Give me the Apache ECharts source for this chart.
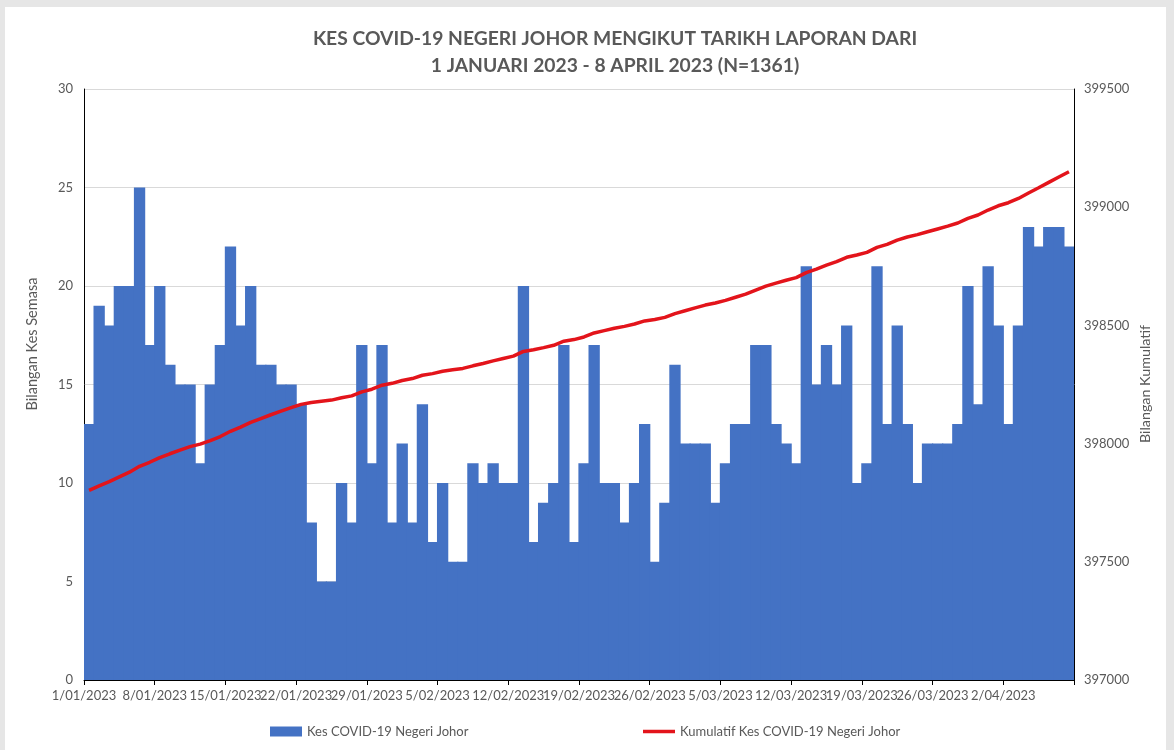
<!DOCTYPE html>
<html>
<head>
<meta charset="utf-8">
<script src="https://cdn.jsdelivr.net/npm/echarts@6/dist/echarts.min.js"></script>
<style>
html,body{margin:0;padding:0;background:#e6e6e6;}
#wrap{position:relative;width:1174px;height:750px;background:#e6e6e6;overflow:hidden;}
#panel{position:absolute;left:5px;top:7px;width:1161px;height:743px;background:#ffffff;}
#chart{position:absolute;left:0;top:0;width:1174px;height:750px;}
</style>
</head>
<body>
<div id="wrap"><div id="panel"></div><div id="chart"></div></div>
<script>
const categories = [
 '1/01/2023','2/01/2023','3/01/2023','4/01/2023','5/01/2023','6/01/2023','7/01/2023','8/01/2023','9/01/2023','10/01/2023',
 '11/01/2023','12/01/2023','13/01/2023','14/01/2023','15/01/2023','16/01/2023','17/01/2023','18/01/2023','19/01/2023','20/01/2023',
 '21/01/2023','22/01/2023','23/01/2023','24/01/2023','25/01/2023','26/01/2023','27/01/2023','28/01/2023','29/01/2023','30/01/2023',
 '31/01/2023','1/02/2023','2/02/2023','3/02/2023','4/02/2023','5/02/2023','6/02/2023','7/02/2023','8/02/2023','9/02/2023',
 '10/02/2023','11/02/2023','12/02/2023','13/02/2023','14/02/2023','15/02/2023','16/02/2023','17/02/2023','18/02/2023','19/02/2023',
 '20/02/2023','21/02/2023','22/02/2023','23/02/2023','24/02/2023','25/02/2023','26/02/2023','27/02/2023','28/02/2023','1/03/2023',
 '2/03/2023','3/03/2023','4/03/2023','5/03/2023','6/03/2023','7/03/2023','8/03/2023','9/03/2023','10/03/2023','11/03/2023',
 '12/03/2023','13/03/2023','14/03/2023','15/03/2023','16/03/2023','17/03/2023','18/03/2023','19/03/2023','20/03/2023','21/03/2023',
 '22/03/2023','23/03/2023','24/03/2023','25/03/2023','26/03/2023','27/03/2023','28/03/2023','29/03/2023','30/03/2023','31/03/2023',
 '1/04/2023','2/04/2023','3/04/2023','4/04/2023','5/04/2023','6/04/2023','7/04/2023','8/04/2023'
];
const dailyCases = [
 13,19,18,20,20,25,17,20,16,15,
 15,11,15,17,22,18,20,16,16,15,
 15,14,8,5,5,10,8,17,11,17,
 8,12,8,14,7,10,6,6,11,10,
 11,10,10,20,7,9,10,17,7,11,
 17,10,10,8,10,13,6,9,16,12,
 12,12,9,11,13,13,17,17,13,12,
 11,21,15,17,15,18,10,11,21,13,
 18,13,10,12,12,12,13,20,14,21,
 18,13,18,23,22,23,23,22
];
const cumulativeCases = [
 397802,397821,397839,397859,397879,397904,397921,397941,397957,397972,
 397987,397998,398013,398030,398052,398070,398090,398106,398122,398137,
 398152,398166,398174,398179,398184,398194,398202,398219,398230,398247,
 398255,398267,398275,398289,398296,398306,398312,398318,398329,398339,
 398350,398360,398370,398390,398397,398406,398416,398433,398440,398451,
 398468,398478,398488,398496,398506,398519,398525,398534,398550,398562,
 398574,398586,398595,398606,398619,398632,398649,398666,398679,398691,
 398702,398723,398738,398755,398770,398788,398798,398809,398830,398843,
 398861,398874,398884,398896,398908,398920,398933,398953,398967,398988,
 399006,399019,399037,399060,399082,399105,399128,399150
];
const tickLabels = ['1/01/2023','8/01/2023','15/01/2023','22/01/2023','29/01/2023','5/02/2023','12/02/2023',
 '19/02/2023','26/02/2023','5/03/2023','12/03/2023','19/03/2023','26/03/2023','2/04/2023'];
const seriesNames = ['Kes COVID-19 Negeri Johor','Kumulatif Kes COVID-19 Negeri Johor'];
const titleLines = ['KES COVID-19 NEGERI JOHOR MENGIKUT TARIKH LAPORAN DARI','1 JANUARI 2023 - 8 APRIL 2023 (N=1361)'];

const FONT = 'Lato';
const GREY = '#595959';
const BLUE = '#4472C4';
const RED = '#E3141B';
const chart = echarts.init(document.getElementById('chart'), null, {renderer:'canvas'});
chart.setOption({
  backgroundColor: 'transparent',
  animation: false,
  textStyle: {fontFamily: FONT},
  title: {
    text: titleLines.join('\n'),
    left: 610, top: 20, textAlign: 'center',
    textStyle: {fontFamily: FONT, fontSize: 19.3, fontWeight: 'bold', color: GREY, lineHeight: 27}
  },
  grid: {left: 84, right: 100, top: 89, bottom: 70, containLabel: false},
  legend: [
    {left: 265, top: 720, itemWidth: 32, itemHeight: 10, itemGap: 5,
     data: [{name: seriesNames[0], icon: 'rect'}],
     textStyle: {fontFamily: FONT, fontSize: 13, color: GREY}},
    {left: 638, top: 720, itemWidth: 32, itemHeight: 10, itemGap: 5,
     data: [{name: seriesNames[1], icon: 'path://M0,0 L32,0 L32,3.5 L0,3.5 Z'}],
     textStyle: {fontFamily: FONT, fontSize: 13, color: GREY}}
  ],
  xAxis: [
    {type: 'category', data: categories, boundaryGap: true, show: false},
    {type: 'value', min: 0, max: categories.length, interval: 7, position: 'bottom',
     axisLine: {show: true, lineStyle: {color: '#000', width: 1}},
     axisTick: {show: true, length: 5, lineStyle: {color: '#000'}},
     splitLine: {show: false},
     axisLabel: {margin: 9, fontSize: 13, color: GREY, fontFamily: FONT,
       formatter: function(v){ const k = Math.round(v/7); return (Math.abs(v - k*7) < 1e-6 && k < tickLabels.length) ? tickLabels[k] : ''; }}}
  ],
  yAxis: [
    {type: 'value', min: 0, max: 30, interval: 5,
     axisLine: {show: true, lineStyle: {color: '#000', width: 1}},
     axisTick: {show: false},
     splitLine: {show: true, lineStyle: {color: '#d9d9d9', width: 1}},
     axisLabel: {margin: 11, fontSize: 13, color: GREY, fontFamily: FONT}},
    {type: 'value', min: 397000, max: 399500, interval: 500, position: 'right',
     axisLine: {show: true, lineStyle: {color: '#000', width: 1}},
     axisTick: {show: false},
     splitLine: {show: false},
     axisLabel: {margin: 10, fontSize: 13, color: GREY, fontFamily: FONT,
       formatter: function(v){ return String(v); }}}
  ],
  graphic: [
    {type: 'text', x: 32, y: 344, rotation: Math.PI/2,
     style: {text: 'Bilangan Kes Semasa', fontFamily: FONT, fontSize: 14.5, fill: GREY, textAlign: 'center', textVerticalAlign: 'middle'}},
    {type: 'text', x: 1145, y: 384, rotation: Math.PI/2,
     style: {text: 'Bilangan Kumulatif', fontFamily: FONT, fontSize: 14.3, fill: GREY, textAlign: 'center', textVerticalAlign: 'middle'}}
  ],
  series: [
    {name: seriesNames[0], type: 'bar', xAxisIndex: 0, yAxisIndex: 0, data: dailyCases,
     barWidth: '112%', itemStyle: {color: BLUE, borderWidth: 0}},
    {name: seriesNames[1], type: 'line', xAxisIndex: 0, yAxisIndex: 1, data: cumulativeCases,
     symbol: 'none', lineStyle: {color: RED, width: 3.5}, itemStyle: {color: RED}, z: 5}
  ]
});
</script>
</body>
</html>
